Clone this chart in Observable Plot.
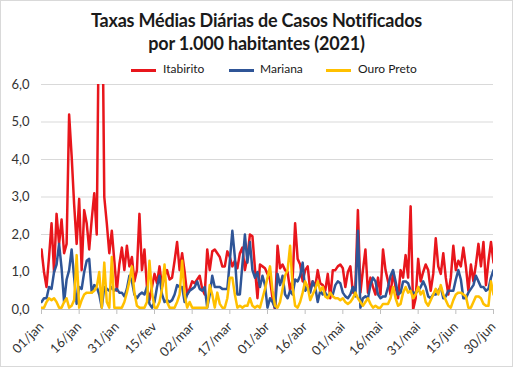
<!DOCTYPE html>
<html><head><meta charset="utf-8">
<script src="https://cdn.jsdelivr.net/npm/d3@7"></script>
<script src="https://cdn.jsdelivr.net/npm/@observablehq/plot@0.6"></script>
<style>
html,body{margin:0;padding:0;background:#fff;}
#wrap{position:relative;width:513px;height:367px;overflow:hidden;font-family:Lato,"Noto Sans",sans-serif;}
#frame{position:absolute;left:0;top:0;width:511px;height:365px;border:1px solid #d9d9d9;pointer-events:none;}
#title{position:absolute;left:0;top:9px;width:513px;text-align:center;font-weight:bold;font-size:18px;line-height:23px;color:#1a1a1a;letter-spacing:-0.2px;}
.leg{position:absolute;top:62px;font-size:12px;color:#1a1a1a;line-height:14px;}
.sw{position:absolute;top:69px;height:3px;width:25px;}
#plot{position:absolute;left:0;top:76px;}
</style></head>
<body><div id="wrap">
<div id="title">Taxas Médias Diárias de Casos Notificados<br>por 1.000 habitantes (2021)</div>
<div class="sw" style="left:131px;background:#e8161c"></div><div class="leg" style="left:163px">Itabirito</div>
<div class="sw" style="left:229px;background:#2f5597"></div><div class="leg" style="left:260px">Mariana</div>
<div class="sw" style="left:326px;background:#ffc000"></div><div class="leg" style="left:358px">Ouro Preto</div>
<div id="plot"></div>
<div id="frame"></div>
</div>
<script>
const seriesNames = ["Itabirito", "Mariana", "Ouro Preto"];
const seriesColors = ["#e8161c", "#2f5597", "#ffc000"];
const xTickLabels = ["01/jan","16/jan","31/jan","15/fev","02/mar","17/mar","01/abr","16/abr","01/mai","16/mai","31/mai","15/jun","30/jun"];
const xTickDays = [0,15,30,45,60,75,90,105,120,135,150,165,180];
const yTicks = [0,1,2,3,4,5,6];

const itabirito = [
 1.6,1.0,0.6,1.4,2.3,1.0,2.55,1.75,2.4,1.5,
 1.75,5.2,4.1,2.8,1.75,2.95,1.05,2.65,2.3,1.6,
 2.4,3.1,2.0,9.0,10.0,3.0,2.3,1.5,2.1,1.3,
 0.5,1.2,1.65,1.05,1.7,1.15,1.4,0.75,1.05,2.55,
 1.05,1.6,0.6,0.25,0.6,0.95,0.7,1.15,0.6,0.9,
 1.05,0.8,0.85,1.3,1.8,1.05,1.5,1.0,0.4,0.55,
 0.75,0.7,0.8,0.9,0.55,0.4,1.6,1.05,1.55,1.6,
 1.5,1.4,1.15,1.15,1.55,1.4,1.15,1.3,1.1,1.5,
 1.65,1.05,1.4,2.0,1.95,1.1,0.3,1.2,1.15,1.1,
 0.95,0.8,0.3,0.0,1.7,1.1,1.2,1.05,1.0,0.5,
 0.8,2.3,1.35,1.2,0.75,1.05,1.15,0.5,0.75,0.6,
 1.05,0.7,0.65,0.5,0.95,0.3,1.05,1.05,1.15,1.2,
 1.1,0.6,1.0,1.15,0.45,0.6,2.65,0.45,1.05,1.6,
 0.45,0.85,0.6,0.4,0.85,0.4,1.6,1.05,0.75,0.4,
 1.0,0.6,0.3,1.05,0.85,1.45,0.85,2.75,0.0,0.3,
 1.35,0.75,1.0,1.2,1.05,0.5,0.95,1.9,1.15,0.95,
 1.5,0.85,0.4,0.85,1.7,1.05,1.3,1.15,1.65,1.15,
 0.5,1.2,0.75,1.2,1.75,1.15,1.8,0.65,1.3,1.8,
 1.25];
const mariana = [
 0.2,0.3,0.3,0.6,0.55,1.0,1.2,1.75,1.1,0.2,
 0.8,1.05,1.6,0.85,0.15,0.6,0.55,1.0,1.3,1.35,
 0.45,0.65,0.6,0.4,0.05,0.6,0.55,0.5,0.6,0.5,
 0.55,0.45,0.45,0.35,0.55,0.9,0.75,0.4,0.3,0.4,
 0.45,0.4,0.6,0.15,0.05,0.2,0.6,0.9,0.4,0.2,
 0.25,0.2,0.25,0.4,0.65,0.6,0.6,0.2,0.4,0.5,
 0.55,0.6,0.75,0.55,0.5,0.6,0.05,0.4,0.9,0.6,
 0.6,0.6,0.55,0.55,0.55,1.3,2.1,1.4,0.4,0.4,
 1.2,2.0,1.25,1.8,1.05,0.85,1.0,0.6,0.9,0.65,
 0.05,0.3,0.2,0.05,0.95,0.65,0.9,0.4,0.3,0.5,
 0.4,0.8,0.75,0.9,1.25,0.5,0.6,0.45,0.75,0.6,
 0.2,0.5,0.4,0.45,0.35,0.4,0.4,0.65,0.75,0.7,
 0.45,0.35,0.3,0.4,0.6,0.35,2.1,0.05,0.3,0.35,
 0.3,0.65,0.85,0.75,0.4,0.3,0.35,0.35,0.6,0.9,
 1.05,0.75,0.4,0.45,0.75,0.75,0.7,0.5,0.45,0.45,
 0.5,0.6,0.75,0.6,0.35,0.3,0.4,0.4,0.5,0.6,
 0.3,0.35,0.5,0.5,0.5,0.8,1.05,0.8,0.3,0.3,
 0.45,0.55,0.65,0.9,0.75,0.6,0.6,0.5,0.55,0.85,
 1.05];
const ouroPreto = [
 0.05,0.05,0.2,0.3,0.25,0.3,0.2,0.05,0.05,0.2,
 0.3,0.05,0.1,0.25,1.45,0.05,0.25,0.4,0.45,0.45,
 0.45,0.5,0.6,1.0,0.05,1.25,0.2,0.05,1.4,0.05,
 0.05,0.05,0.05,0.2,0.45,0.75,1.15,0.45,0.1,0.05,
 0.05,0.05,0.2,1.3,0.45,0.05,0.05,0.2,0.55,1.2,
 0.2,0.05,0.05,0.05,0.2,0.4,1.3,0.4,0.05,0.2,
 0.05,0.05,0.05,0.05,0.05,0.05,0.05,0.65,0.4,0.05,
 0.45,0.15,0.05,0.05,0.3,0.85,0.85,0.4,0.05,0.1,
 0.05,0.1,0.1,0.3,0.1,0.05,0.1,0.05,0.3,0.55,
 0.85,1.15,0.5,0.1,0.05,0.2,0.55,0.9,1.05,1.7,
 0.6,0.1,0.05,0.2,0.45,0.75,0.6,0.25,0.4,0.55,
 0.75,0.5,0.6,0.35,0.3,0.45,0.35,0.3,0.3,0.25,
 0.3,0.2,0.15,0.2,0.3,0.45,0.3,0.2,0.1,0.2,
 0.3,0.15,0.05,0.1,0.05,0.05,0.15,0.15,0.15,0.3,
 0.6,0.3,0.1,0.15,0.45,0.6,0.45,0.5,0.3,0.4,
 0.6,0.4,0.5,0.2,0.1,0.25,0.4,0.55,0.4,0.65,
 0.4,0.25,0.1,0.05,0.25,0.4,0.45,0.45,0.4,0.35,
 0.05,0.05,0.2,0.35,0.35,0.3,0.15,0.1,0.1,0.75,
 0.4];

const allSeries = [itabirito, mariana, ouroPreto];
const lineMarks = allSeries.map((vals, k) =>
  Plot.lineY(vals.map((v, i) => ({day: i, value: v, serie: seriesNames[k]})), {
    x: "day", y: "value", stroke: seriesColors[k], strokeWidth: 2.5,
    strokeLinejoin: "round", curve: "linear", clip: true
  })
);

const fmtY = d => d.toFixed(1).replace(".", ",");

const chart = Plot.plot({
  width: 513, height: 291,
  marginTop: 8, marginBottom: 58, marginLeft: 41, marginRight: 20,
  style: {fontFamily: "Lato, 'Noto Sans', sans-serif", fontSize: "13px", color: "#333", background: "transparent"},
  x: {domain: [0, 180]},
  y: {domain: [0, 6]},
  marks: [
    Plot.gridY(yTicks.slice(1), {stroke: "#d9d9d9", strokeOpacity: 1, strokeWidth: 1}),
    Plot.axisY({ticks: yTicks, tickSize: 0, tickPadding: 12, tickFormat: fmtY, fontSize: 13, fill: "#333", label: null}),
    ...lineMarks,
    Plot.ruleY([0], {stroke: "#bfbfbf", strokeWidth: 1}),
    Plot.axisX({ticks: xTickDays, tickFormat: d => xTickLabels[xTickDays.indexOf(d)], tickRotate: -45,
      tickSize: 5, tickPadding: 10, stroke: "#bfbfbf", fontSize: 13, fill: "#333", label: null})
  ]
});
document.getElementById("plot").appendChild(chart);
</script>
</body></html>
